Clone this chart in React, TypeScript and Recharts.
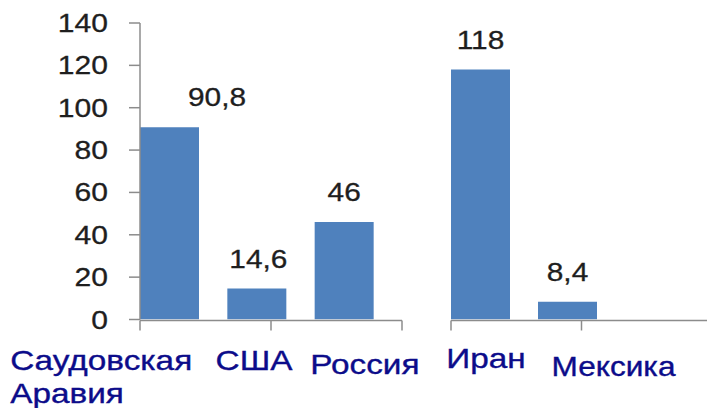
import React from 'react';
import { BarChart, Bar, XAxis, YAxis, LabelList } from 'recharts';

// ---- data ----
const leftCategories = ['Саудовская Аравия', 'США', 'Россия'];
const leftValues: (number | null)[] = [90.8, 14.6, 46];
const rightCategories = ['Иран', 'Мексика', ''];
const rightValues: (number | null)[] = [118, 8.4, null];
const yTicks = [0, 20, 40, 60, 80, 100, 120, 140];
const leftBoundaryTicks = [0, 1, 2];
const rightBoundaryTicks = [0, 1, 2.47];

const leftData = leftCategories.map((name, i) => ({ name, value: leftValues[i] }));
const rightData = rightCategories.map((name, i) => ({ name, value: rightValues[i] }));

// ---- styles / layout ----
const BAR = '#4F81BD';
const AXIS = '#8c8c8c';
const NUM_COLOR = '#1e1e1e';
const LABEL_COLOR = '#0c0c8a';
const FONT = "'Liberation Sans', Arial, sans-serif";
const SX = 1.17;

const LABEL_LAYOUT: Record<string, { dx: number; dy: number; anchor: 'start' | 'middle' | 'end'; size: number }> = {
  'Саудовская Аравия': { dx: -159.5, dy: 50.5, anchor: 'start', size: 28.5 },
  'США': { dx: -3, dy: 50, anchor: 'middle', size: 28.5 },
  'Россия': { dx: 20.5, dy: 54, anchor: 'middle', size: 28.5 },
  'Иран': { dx: 5.5, dy: 48, anchor: 'middle', size: 28.5 },
  'Мексика': { dx: 46, dy: 56, anchor: 'middle', size: 27 },
};

const CategoryTick = (props: any) => {
  const { x, y, payload } = props;
  const v: string = payload?.value;
  const l = v ? LABEL_LAYOUT[v] : undefined;
  if (!v || !l) return <g />;
  const lines = v.split(' ');
  return (
    <g transform={`translate(${x + l.dx},${y + l.dy}) scale(${SX},1)`}>
      <text
        x={0}
        y={0}
        textAnchor={l.anchor}
        fontFamily={FONT}
        fontSize={l.size}
        fill={LABEL_COLOR}
        stroke={LABEL_COLOR}
        strokeWidth={0.35}
      >
        {lines.map((t, i) => (
          <tspan key={i} x={0} dy={i === 0 ? 0 : 33}>
            {t}
          </tspan>
        ))}
      </text>
    </g>
  );
};

const YTick = (props: any) => {
  const { x, y, payload } = props;
  return (
    <g transform={`translate(${x},${y + 9}) scale(1.18,1)`}>
      <text
        x={0}
        y={0}
        textAnchor="end"
        fontFamily={FONT}
        fontSize={25.5}
        fill={NUM_COLOR}
        stroke={NUM_COLOR}
        strokeWidth={0.3}
      >
        {payload.value}
      </text>
    </g>
  );
};

const EmptyTick = () => <g />;

const fmt = (v: number) => String(v).replace('.', ',');

const makeValueLabel = (offsets: number[]) => (props: any) => {
  const { x, y, width, value, index } = props;
  if (value === null || value === undefined) return null;
  const cx = Number(x) + Number(width) / 2 + (offsets[index] || 0);
  return (
    <g transform={`translate(${cx},${Number(y) - 21}) scale(1.17,1)`}>
      <text
        x={0}
        y={0}
        textAnchor="middle"
        fontFamily={FONT}
        fontSize={25.5}
        fill={NUM_COLOR}
        stroke={NUM_COLOR}
        strokeWidth={0.3}
      >
        {fmt(Number(value))}
      </text>
    </g>
  );
};

const LeftValueLabel = makeValueLabel([47.5, 1.5, 0]);
const RightValueLabel = makeValueLabel([0, 0, 0]);

const axisStroke = { stroke: AXIS, strokeWidth: 1.5 };

export default function App() {
  return (
    <div style={{ position: 'absolute', left: 0, top: 0, width: 707, height: 408, overflow: 'hidden', background: '#fff' }}>
      <div style={{ position: 'absolute', left: 0, top: 0 }}>
        <BarChart width={420} height={408} data={leftData} margin={{ top: 23, right: 18, bottom: 86.5, left: 0 }}>
          <YAxis
            domain={[0, 140]}
            ticks={yTicks}
            width={140}
            tickSize={11}
            tickMargin={21}
            axisLine={axisStroke}
            tickLine={axisStroke}
            tick={YTick}
            interval={0}
            allowDataOverflow
          />
          <XAxis
            xAxisId="tk"
            type="number"
            domain={[0, 3]}
            ticks={leftBoundaryTicks}
            allowDataOverflow
            height={1}
            tickSize={10}
            axisLine={axisStroke}
            tickLine={axisStroke}
            tick={EmptyTick}
            interval={0}
          />
          <XAxis
            xAxisId="cat"
            dataKey="name"
            type="category"
            padding={{ left: -14, right: 14 }}
            height={1}
            axisLine={false}
            tickLine={false}
            tickSize={0}
            tickMargin={0}
            tick={CategoryTick}
            interval={0}
          />
          <Bar xAxisId="cat" dataKey="value" fill={BAR} barSize={59} isAnimationActive={false}>
            <LabelList dataKey="value" content={LeftValueLabel} />
          </Bar>
        </BarChart>
      </div>
      <div style={{ position: 'absolute', left: 0, top: 0 }}>
        <BarChart width={720} height={408} data={rightData} margin={{ top: 23, right: 8, bottom: 86.5, left: 451 }}>
          <YAxis hide domain={[0, 140]} ticks={yTicks} allowDataOverflow />
          <XAxis
            xAxisId="tk"
            type="number"
            domain={[0, 3]}
            ticks={rightBoundaryTicks}
            allowDataOverflow
            height={1}
            tickSize={10}
            axisLine={axisStroke}
            tickLine={axisStroke}
            tick={EmptyTick}
            interval={0}
          />
          <XAxis
            xAxisId="cat"
            dataKey="name"
            type="category"
            padding={{ left: -14, right: 14 }}
            height={1}
            axisLine={false}
            tickLine={false}
            tickSize={0}
            tickMargin={0}
            tick={CategoryTick}
            interval={0}
          />
          <Bar xAxisId="cat" dataKey="value" fill={BAR} barSize={59} isAnimationActive={false}>
            <LabelList dataKey="value" content={RightValueLabel} />
          </Bar>
        </BarChart>
      </div>
    </div>
  );
}
